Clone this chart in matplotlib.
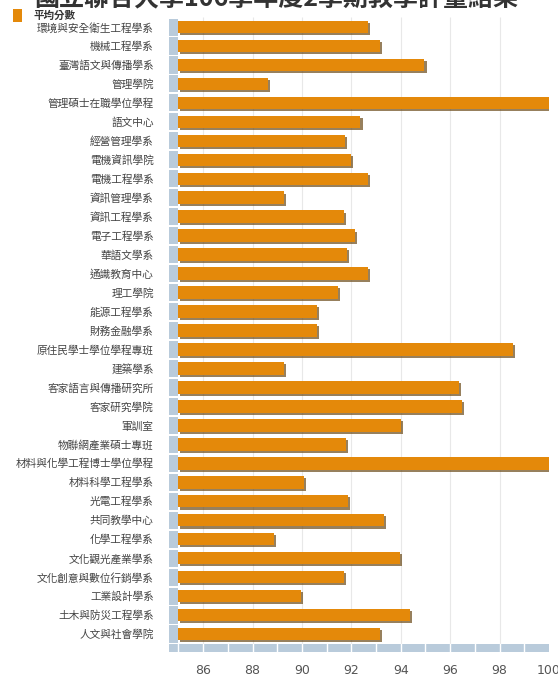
# 國立聯合大學 teaching evaluation results, average score per unit

import matplotlib.pyplot as plt
import matplotlib.patheffects as pe
from matplotlib.patches import Rectangle

plt.rcParams['font.family'] = ['Noto Sans CJK TC', 'DejaVu Sans']

units = [
    '環境與安全衛生工程學系', '機械工程學系', '臺灣語文與傳播學系', '管理學院',
    '管理碩士在職學位學程', '語文中心', '經營管理學系', '電機資訊學院',
    '電機工程學系', '資訊管理學系', '資訊工程學系', '電子工程學系',
    '華語文學系', '通識教育中心', '理工學院', '能源工程學系',
    '財務金融學系', '原住民學士學位學程專班', '建築學系', '客家語言與傳播研究所',
    '客家研究學院', '軍訓室', '物聯網產業碩士專班', '材料與化學工程博士學位學程',
    '材料科學工程學系', '光電工程學系', '共同教學中心', '化學工程學系',
    '文化觀光產業學系', '文化創意與數位行銷學系', '工業設計學系', '土木與防災工程學系',
    '人文與社會學院',
]
scores = [
    92.67, 93.14, 94.96, 88.63,
    100.0, 92.37, 91.75, 91.97,
    92.67, 89.27, 91.70, 92.13,
    91.83, 92.67, 91.45, 90.62,
    90.62, 98.53, 89.27, 96.37,
    96.47, 94.02, 91.79, 100.0,
    90.08, 91.86, 93.32, 88.87,
    93.95, 91.70, 89.95, 94.39,
    93.14,
]
ticks = [86, 88, 90, 92, 94, 96, 98, 100]

base = 85.0
x_min = 84.62
n = len(units)
y_top = -0.53
y_bot = n - 1 + 0.95
floor_h = 0.42

fig = plt.figure(figsize=(5.58, 6.8), dpi=100)
ax = fig.add_axes([169 / 558, 28 / 680, 380 / 558, 635 / 680])
ax.set_xlim(x_min, 100)
ax.set_ylim(y_bot, y_top)

# grid lines
ax.vlines(ticks[:-1], y_top, y_bot - floor_h, color='#e8e8e8', lw=0.8, zorder=0)

# left wall, one block per category
for i in range(n):
    ax.add_patch(Rectangle((x_min, i - 0.5 + 0.05), base - x_min, 0.9,
                           facecolor='#b9cbdb', edgecolor='none', zorder=1))

# floor strip
ax.add_patch(Rectangle((x_min, y_bot - floor_h), 100 - x_min, floor_h,
                       facecolor='#b9cbdb', edgecolor='none', zorder=1))
for v in range(85, 100):
    ax.plot([v, v], [y_bot - floor_h, y_bot], color='white', lw=1, zorder=2)

bars = ax.barh(range(n), [s - base for s in scores], left=base, height=0.66,
               color='#e4890a', zorder=3)
for b in bars:
    b.set_path_effects([pe.SimplePatchShadow(offset=(1.5, -1.5), shadow_rgbFace='#6b4a18', alpha=0.7),
                        pe.Normal()])

ax.set_yticks(range(n))
ax.set_yticklabels(units, fontsize=7.7, color='#444444')
ax.set_xticks(ticks)
ax.set_xticklabels([str(t) for t in ticks], fontsize=9, color='#555555',
                   family=['DejaVu Sans'])
ax.tick_params(axis='y', length=0, pad=11)
ax.tick_params(axis='x', length=0, pad=9)
for s in ax.spines.values():
    s.set_visible(False)

# title (top is cut off like the source)
fig.text(0.495, 1 - 6 / 680, '國立聯合大學106學年度2學期教學評量結果', ha='center',
         va='baseline', fontsize=18, fontweight='bold', color='#333333')

# legend
fig.patches.append(Rectangle((13 / 558, 1 - 22 / 680), 9 / 558, 13 / 680,
                             transform=fig.transFigure, facecolor='#e4890a',
                             edgecolor='none'))
fig.text(33 / 558, 1 - 15.5 / 680, '平均分數', ha='left', va='center',
         fontsize=7.6, fontweight='bold', color='#333333')

plt.savefig('out.png', dpi=100)
